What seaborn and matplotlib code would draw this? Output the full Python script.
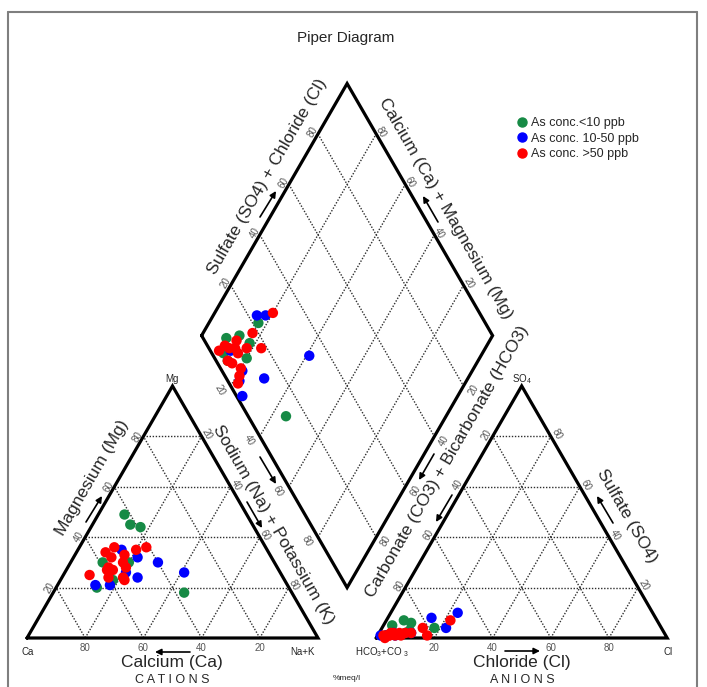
import numpy as np
import pandas as pd
import matplotlib
matplotlib.use("Agg")
import matplotlib.pyplot as plt
import seaborn as sns
from matplotlib.lines import Line2D

sns.set_theme(style="white")
plt.rcParams['font.family'] = ['Liberation Sans', 'DejaVu Sans']
plt.rcParams['mathtext.default'] = 'regular'

# ---- sample chemistry (% meq/l) ----
group = (["<10"] * 8) + (["10-50"] * 8) + ([">50"] * 15)
ca   = [42, 42, 39, 59, 37, 50, 59, 66,   50, 61, 40, 50, 33, 66, 53, 46,
        45, 50, 41, 56, 55, 52, 57, 58, 60, 52, 55, 66, 52, 55, 59]
mg   = [49, 45, 44, 30, 18, 30, 23, 20,   35, 21, 30, 24, 26, 21, 26, 32,
        35, 33, 36, 34, 32, 30, 27, 28, 24, 28, 24, 25, 36, 23, 27]
nak  = [9, 13, 17, 11, 45, 20, 18, 14,    15, 18, 30, 26, 41, 13, 21, 22,
        20, 17, 23, 10, 13, 18, 16, 14, 16, 20, 21, 9, 12, 22, 14]
hco3 = [92, 87, 78, 96, 87, 89, 85, 96,   77, 74, 87, 98, 67, 93, 93, 96,
        71, 82, 82, 94, 89, 87, 91, 96, 95, 93, 95, 97, 93, 97, 91]
so4  = [5, 7, 4, 1, 3, 2, 6, 1,           8, 4, 2, 1, 10, 2, 1, 1,
        7, 4, 1, 2, 2, 2, 1, 1, 1, 2, 1, 1, 1, 0, 2]
cl   = [3, 6, 18, 3, 10, 9, 9, 3,         15, 22, 11, 1, 23, 5, 6, 3,
        22, 14, 17, 4, 9, 11, 8, 3, 4, 5, 4, 2, 6, 3, 7]

legend_labels = {"<10": "As conc.<10 ppb", "10-50": "As conc. 10-50 ppb",
                 ">50": "As conc. >50 ppb"}
palette = {"<10": "#168a45", "10-50": "#0000ff", ">50": "#ff0000"}
order = ["<10", "10-50", ">50"]

# ---- geometry ----
S = np.sqrt(3) / 2
GAP = 0.2
LEFT = np.array([0.5 + GAP / 2, (1 + GAP) * S])


def cation_xy(mg_f, nak_f):
    return nak_f + mg_f / 2, mg_f * S


def anion_xy(so4_f, cl_f):
    return 1 + GAP + cl_f + so4_f / 2, so4_f * S


def diamond_xy(nak_f, sc_f):
    return (LEFT[0] + 0.5 * nak_f + 0.5 * sc_f,
            LEFT[1] - S * nak_f + S * sc_f)


df = pd.DataFrame(dict(group=group, ca=ca, mg=mg, nak=nak,
                       hco3=hco3, so4=so4, cl=cl))
df["grp_rank"] = df["group"].map({g: i for i, g in enumerate(order)})
df = df.sort_values("grp_rank", kind="stable").reset_index(drop=True)
tot_c = df[["ca", "mg", "nak"]].sum(axis=1)
tot_a = df[["hco3", "so4", "cl"]].sum(axis=1)
mgf, nakf = df.mg / tot_c, df.nak / tot_c
so4f, clf = df.so4 / tot_a, df.cl / tot_a
df["cx"], df["cy"] = cation_xy(mgf, nakf)
df["ax"], df["ay"] = anion_xy(so4f, clf)
df["dx"], df["dy"] = diamond_xy(nakf, so4f + clf)

W, H = 707, 687
fig = plt.figure(figsize=(W / 100, H / 100), dpi=100)
ax = fig.add_axes([0, 0, 1, 1])
PX = 291.0
OX, OY = 27.0, 638.0
ax.set_xlim(-OX / PX, (W - OX) / PX)
ax.set_ylim(-(H - OY) / PX, OY / PX)
ax.axis("off")


def P(x, y):
    return ((x - OX) / PX, (OY - y) / PX)


GRID = dict(color="#2e2e2e", lw=1.0, ls=(0, (1, 1.2)), zorder=1)
EDGE = dict(color="black", lw=2.3, zorder=3, solid_joinstyle="miter")

# cation triangle
ax.plot([0, 1, 0.5, 0], [0, 0, S, 0], **EDGE)
# anion triangle
x0 = 1 + GAP
ax.plot([x0, x0 + 1, x0 + 0.5, x0], [0, 0, S, 0], **EDGE)
# diamond
corners = [diamond_xy(0, 0), diamond_xy(1, 0), diamond_xy(1, 1),
           diamond_xy(0, 1), diamond_xy(0, 0)]
ax.plot([c[0] for c in corners], [c[1] for c in corners], **EDGE)

for f in (0.2, 0.4, 0.6, 0.8):
    # cation grid
    a, b = cation_xy(f, 0), cation_xy(f, 1 - f)
    ax.plot([a[0], b[0]], [a[1], b[1]], **GRID)
    a, b = cation_xy(0, f), cation_xy(1 - f, f)
    ax.plot([a[0], b[0]], [a[1], b[1]], **GRID)
    a, b = cation_xy(0, 1 - f), cation_xy(1 - f, 0)
    ax.plot([a[0], b[0]], [a[1], b[1]], **GRID)
    # anion grid
    a, b = anion_xy(f, 0), anion_xy(f, 1 - f)
    ax.plot([a[0], b[0]], [a[1], b[1]], **GRID)
    a, b = anion_xy(0, f), anion_xy(1 - f, f)
    ax.plot([a[0], b[0]], [a[1], b[1]], **GRID)
    a, b = anion_xy(0, 1 - f), anion_xy(1 - f, 0)
    ax.plot([a[0], b[0]], [a[1], b[1]], **GRID)
    # diamond grid
    a, b = diamond_xy(f, 0), diamond_xy(f, 1)
    ax.plot([a[0], b[0]], [a[1], b[1]], **GRID)
    a, b = diamond_xy(0, f), diamond_xy(1, f)
    ax.plot([a[0], b[0]], [a[1], b[1]], **GRID)

# ---- tick labels ----
TICK = dict(fontsize=7, color="#555555", ha="center", va="center",
            textcoords="offset pixels", zorder=4)
for k in (20, 40, 60, 80):
    f = k / 100
    lab = str(k)
    ax.annotate(lab, cation_xy(f, 0), xytext=(-6, 0), rotation=60, **TICK)
    ax.annotate(lab, cation_xy(1 - f, f), xytext=(5, 2), rotation=-60, **TICK)
    ax.annotate(lab, cation_xy(0, 1 - f), xytext=(0, -10), rotation=0, **TICK)
    ax.annotate(lab, anion_xy(1 - f, 0), xytext=(-6, 2), rotation=60, **TICK)
    ax.annotate(lab, anion_xy(f, 1 - f), xytext=(6, 2), rotation=-60, **TICK)
    ax.annotate(lab, anion_xy(0, f), xytext=(0, -10), rotation=0, **TICK)
    ax.annotate(lab, diamond_xy(0, f), xytext=(-5, 2), rotation=60, **TICK)
    ax.annotate(lab, diamond_xy(1 - f, 1), xytext=(5, 2), rotation=-60, **TICK)
    ax.annotate(lab, diamond_xy(f, 0), xytext=(-11, -4), rotation=-60, **TICK)
    ax.annotate(lab, diamond_xy(1, 1 - f), xytext=(10, -4), rotation=60, **TICK)

# ---- points ----
for xc, yc in (("cx", "cy"), ("ax", "ay"), ("dx", "dy")):
    sns.scatterplot(data=df, x=xc, y=yc, hue="group", hue_order=order,
                    palette=palette, s=56, linewidth=0, marker="o",
                    legend=False, ax=ax, zorder=5)
ax.set_xlabel("")
ax.set_ylabel("")

# ---- labels ----
def txt(s, x, y, **kw):
    kw.setdefault("ha", "center")
    kw.setdefault("va", "center")
    ax.text(*P(x, y), s, **kw)


BIG = 12.5
txt("Piper Diagram", 346, 38, fontsize=11)
txt("Magnesium (Mg)", 92, 478, fontsize=BIG, rotation=60)
txt("Sodium (Na) + Potassium (K)", 273, 525, fontsize=BIG, rotation=-60)
txt("Calcium (Ca)", 172, 663, fontsize=BIG)
txt("C A T I O N S", 172, 680, fontsize=9)
txt("Chloride (Cl)", 522, 663, fontsize=BIG)
txt("A N I O N S", 522, 680, fontsize=9)
txt("Sulfate (SO4)", 627, 516, fontsize=BIG, rotation=-60)
txt("Carbonate (CO3) + Bicarbonate (HCO3)", 447, 462, fontsize=BIG, rotation=60)
txt("Sulfate (SO4) + Chloride (Cl)", 267, 177, fontsize=BIG, rotation=60)
txt("Calcium (Ca) + Magnesium (Mg)", 446, 208, fontsize=BIG, rotation=-60)
txt("%meq/l", 347, 679, fontsize=6)
txt("Mg", 172, 379, fontsize=7)
txt("Ca", 28, 652, fontsize=7)
txt("Na+K", 303, 652, fontsize=7)
txt("SO$_4$", 522, 379, fontsize=7)
txt("HCO$_3$+CO $_3$", 382, 652, fontsize=7)
txt("Cl", 668, 652, fontsize=7)

ARROW = dict(arrowstyle="-|>", color="black", lw=1.2, mutation_scale=9,
             shrinkA=0, shrinkB=0)
for tail, head in [((86, 522), (102, 496)),
                   ((260, 457), (276, 484)),
                   ((247, 502), (262, 528)),
                   ((190, 652), (155, 652)),
                   ((505, 651), (540, 651)),
                   ((613, 523), (597, 496)),
                   ((434, 454), (419, 480)),
                   ((452, 495), (436, 522)),
                   ((260, 217), (276, 191)),
                   ((438, 222), (423, 196))]:
    ax.annotate("", xy=P(*head), xytext=P(*tail), arrowprops=ARROW)

# legend
handles = [Line2D([], [], marker="o", ls="", color=palette[g], markersize=6.5)
           for g in order]
fig.legend(handles, [legend_labels[g] for g in order], loc="upper left",
           bbox_to_anchor=(516 / W, 1 - 117 / H), frameon=False, fontsize=9,
           handlelength=1.0, handletextpad=0.2, labelspacing=0.3,
           borderpad=0, borderaxespad=0)

# outer frame
fc = "#7f7f7f"
fig.add_artist(Line2D([8 / W, 8 / W], [0, 1 - 12 / H], color=fc, lw=1.5))
fig.add_artist(Line2D([8 / W, 697 / W], [1 - 12 / H, 1 - 12 / H], color=fc, lw=1.5))
fig.add_artist(Line2D([697 / W, 697 / W], [0, 1 - 12 / H], color=fc, lw=1.5))

fig.savefig("out.png", dpi=100, facecolor="white")
